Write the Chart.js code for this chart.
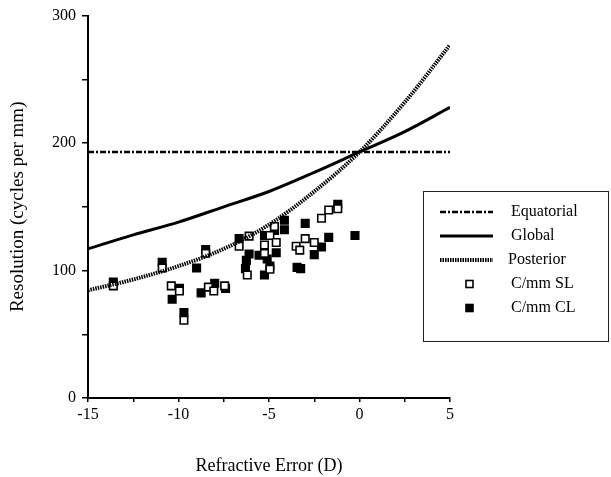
<!DOCTYPE html>
<html>
<head>
<meta charset="utf-8">
<script src="https://cdn.jsdelivr.net/npm/chart.js@4/dist/chart.umd.min.js"></script>
<style>
  body { margin: 0; background: #fff; }
  canvas { display: block; }
</style>
</head>
<body>
<canvas id="resChart" width="611" height="477"></canvas>
<script>
// model curves, sampled every 2.5 D
const refraction = [-15, -12.5, -10, -7.5, -5, -2.5, 0, 2.5, 5];
const equatorial = [193, 193, 193, 193, 193, 193, 193, 193, 193];
const globalRes = [117, 128, 138, 150, 162, 177, 193, 209, 228];
const posterior = [84.5, 93, 103.5, 117, 136, 162, 193, 232, 277];

// measured acuity, spectacle lens (open) and contact lens (filled)
const slX = [-13.6, -10.9, -10.4, -9.95, -9.7, -8.5, -8.35, -8.05, -7.45, -6.65, -6.1, -6.2, -5.25,
             -5.25, -4.95, -4.7, -4.6, -4.95, -3.5, -3.3, -3.0, -2.5, -2.1, -1.7, -1.2];
const slY = [88, 102, 88, 84, 61, 113.5, 87, 84, 88, 119, 127, 96.5, 120,
             113.5, 127.5, 134.5, 122, 101, 119, 116, 125, 122, 141, 147.5, 148.5];
const clX = [-13.6, -10.9, -10.35, -9.95, -9.7, -9.0, -8.75, -8.5, -8.0, -7.4, -6.65, -6.1, -6.25, -6.3,
             -5.25, -5.55, -5.1, -4.95, -5.25, -4.7, -4.6, -4.15, -4.15, -3.45, -3.25, -3.0, -2.5,
             -2.1, -1.7, -1.2, -0.25];
const clY = [91, 106.5, 77.5, 86, 67, 102, 82.5, 116.5, 90, 86, 125, 113, 108, 101.5,
             127.5, 112, 109, 103.5, 96.5, 131.5, 114, 139.5, 132, 102.5, 101.5, 137, 112.5,
             118.5, 126, 152, 127.5];

const xTicks = [-15, -12.5, -10, -7.5, -5, -2.5, 0, 2.5, 5];
const yTicks = [0, 50, 100, 150, 200, 250, 300];

const pts = (xs, ys) => xs.map((x, i) => ({ x: x, y: ys[i] }));
const serif = "'Liberation Serif', 'Times New Roman', serif";

// boxed legend on the right of the plot
const boxLegend = {
  id: "boxLegend",
  afterDraw(chart) {
    const ctx = chart.ctx;
    const bx = 423.5, by = 191.5, bw = 185, bh = 150;
    ctx.save();
    ctx.strokeStyle = "#222";
    ctx.lineWidth = 1;
    ctx.strokeRect(bx, by, bw, bh);
    ctx.font = "16px " + serif;
    ctx.textBaseline = "middle";
    ctx.fillStyle = "#000";
    chart.data.datasets.forEach((ds, i) => {
      const y = 212 + i * 24;
      if (ds.showLine) {
        ctx.beginPath();
        ctx.strokeStyle = "#000";
        ctx.lineWidth = ds.borderWidth;
        ctx.setLineDash(ds.borderDash || []);
        ctx.moveTo(440, y);
        ctx.lineTo(493, y);
        ctx.stroke();
        ctx.setLineDash([]);
      } else {
        ctx.fillStyle = ds.pointBackgroundColor;
        ctx.strokeStyle = "#000";
        ctx.lineWidth = ds.pointBorderWidth;
        ctx.fillRect(466, y - 3.5, 7, 7);
        ctx.strokeRect(466, y - 3.5, 7, 7);
      }
      ctx.fillStyle = "#000";
      ctx.fillText(ds.label, i === 2 ? 508 : 511, y);
    });
    ctx.restore();
  }
};

new Chart(document.getElementById("resChart"), {
  type: "scatter",
  data: {
    datasets: [
      {
        label: "Equatorial", data: pts(refraction, equatorial), showLine: true,
        borderColor: "#000", borderWidth: 2.5, borderDash: [6, 2, 2, 2], pointRadius: 0
      },
      {
        label: "Global", data: pts(refraction, globalRes), showLine: true,
        borderColor: "#000", borderWidth: 3, cubicInterpolationMode: "monotone", pointRadius: 0
      },
      {
        label: "Posterior", data: pts(refraction, posterior), showLine: true,
        borderColor: "#000", borderWidth: 4, borderDash: [1.5, 1], cubicInterpolationMode: "monotone",
        pointRadius: 0
      },
      {
        label: "C/mm SL", data: pts(slX, slY), showLine: false,
        pointStyle: "rect", pointRadius: 5.3, pointBackgroundColor: "#fff",
        pointBorderColor: "#000", pointBorderWidth: 1.6
      },
      {
        label: "C/mm CL", data: pts(clX, clY), showLine: false,
        pointStyle: "rect", pointRadius: 5.3, pointBackgroundColor: "#000",
        pointBorderColor: "#000", pointBorderWidth: 1.6
      }
    ]
  },
  options: {
    responsive: false,
    animation: false,
    layout: { padding: { left: 0, right: 161, top: 15, bottom: 0 } },
    plugins: { legend: { display: false }, tooltip: { enabled: false } },
    scales: {
      x: {
        type: "linear", min: -15, max: 5,
        afterBuildTicks: s => { s.ticks = xTicks.map(v => ({ value: v })); },
        afterFit: s => { s.height = 79; },
        ticks: {
          color: "#000", padding: 3, maxRotation: 0, autoSkip: false,
          font: { family: serif, size: 16 },
          callback: v => (v % 5 === 0 ? String(v) : "")
        },
        grid: { drawOnChartArea: false, tickLength: 4, color: "#000", lineWidth: 1.5 },
        border: { color: "#000", width: 2 },
        title: {
          display: true, text: "Refractive Error (D)", color: "#000",
          font: { family: serif, size: 18 }, padding: { top: 0, bottom: 0 }
        }
      },
      y: {
        type: "linear", min: 0, max: 300,
        afterBuildTicks: s => { s.ticks = yTicks.map(v => ({ value: v })); },
        afterFit: s => { s.width = 88; },
        ticks: {
          color: "#000", padding: 6, autoSkip: false,
          font: { family: serif, size: 16 },
          callback: v => (v % 100 === 0 ? String(v) : "")
        },
        grid: { drawOnChartArea: false, tickLength: 6, color: "#000", lineWidth: 1.5 },
        border: { color: "#000", width: 2 },
        title: {
          display: true, text: "Resolution (cycles per mm)", color: "#000",
          font: { family: serif, size: 19 }, padding: { top: 7, bottom: 0 }
        }
      }
    }
  },
  plugins: [boxLegend]
});
</script>
</body>
</html>
